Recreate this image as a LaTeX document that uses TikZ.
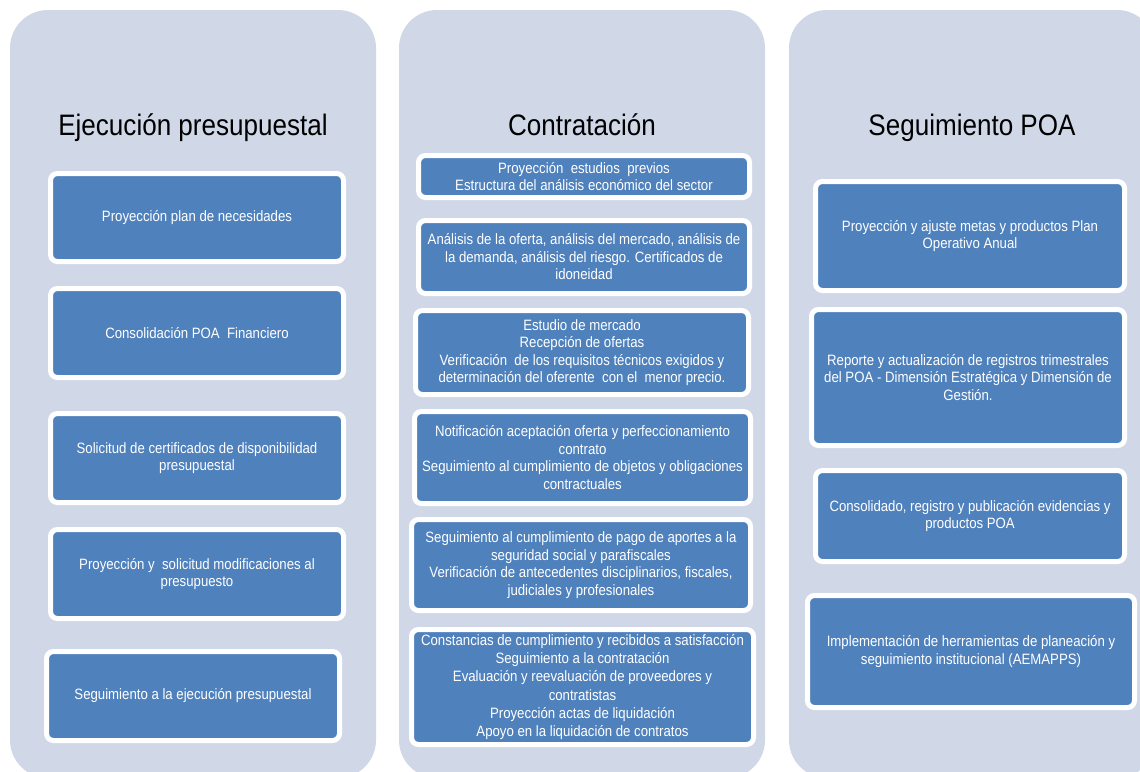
\documentclass[tikz,border=0pt]{standalone}
\usepackage{fontspec}
\setmainfont[FakeStretch=0.88]{Liberation Sans}
\definecolor{panelbg}{HTML}{D0D8E8}
\definecolor{boxblue}{HTML}{4F81BD}
\tikzset{
  panel/.style={fill=panelbg, draw=none, rounded corners=38pt},
  stepbox/.style={rounded corners=7pt, fill=boxblue, draw=white, line width=5pt,
    align=center, text=white, inner sep=0pt, font=\fontsize{15}{17.5}\selectfont},
  coltitle/.style={anchor=base, inner sep=0pt, font=\fontsize{29.6}{34}\selectfont, text=black}
}
\begin{document}
\begin{tikzpicture}[x=1pt,y=-1pt]
\useasboundingbox (0,0) rectangle (1140,771);
\clip (0,0) rectangle (1140,771);
\fill[white] (0,0) rectangle (1140,771);
% panels
\path[panel] (10,10) rectangle (376,778);
\path[panel] (399,10) rectangle (765,778);
\path[panel] (789,10) rectangle (1155,778);
% titles
\node[coltitle] (t1) at (193,135) {Ejecución presupuestal};
\node[coltitle] (t2) at (582,135) {Contratación};
\node[coltitle] (t3) at (972,135) {Seguimiento POA};
% column 1
\node[stepbox, minimum width=293, minimum height=88] (a1) at (197,217.5) {Proyección plan de necesidades};
\node[stepbox, minimum width=293, minimum height=89] (a2) at (197,333) {Consolidación POA\ \ Financiero};
\node[stepbox, minimum width=293, minimum height=89] (a3) at (197,458) {Solicitud de certificados de disponibilidad\\presupuestal};
\node[stepbox, minimum width=293, minimum height=89] (a4) at (197,574) {Proyección y\ \ solicitud modificaciones al\\presupuesto};
\node[stepbox, minimum width=293, minimum height=89] (a5) at (193,696) {Seguimiento a la ejecución presupuestal};
% column 2
\node[stepbox, minimum width=331, minimum height=42] (b1) at (584,176.5) {Proyección\ \ estudios\ \ previos\\Estructura del análisis económico del sector};
\node[stepbox, minimum width=331, minimum height=73] (b2) at (584,257) {Análisis de la oferta, análisis del mercado, análisis de\\la demanda, análisis del riesgo. Certificados de\\idoneidad};
\node[stepbox, minimum width=333, minimum height=84] (b3) at (582,352.5) {Estudio de mercado\\Recepción de ofertas\\Verificación\ \ de los requisitos técnicos exigidos y\\determinación del oferente\ \ con el\ \ menor precio.};
\node[stepbox, minimum width=336, minimum height=92] (b4) at (582.5,457.5) {Notificación aceptación oferta y perfeccionamiento\\contrato\\Seguimiento al cumplimiento de objetos y obligaciones\\contractuales};
\node[stepbox, minimum width=339, minimum height=91] (b5) at (581,565) {Seguimiento al cumplimiento de pago de aportes a la\\seguridad social y parafiscales\\Verificación de antecedentes disciplinarios, fiscales,\\judiciales y profesionales};
\node[stepbox, minimum width=342, minimum height=115, font=\fontsize{15}{18.2}\selectfont] (b6) at (582.5,687) {Constancias de cumplimiento y recibidos a satisfacción\\Seguimiento a la contratación\\Evaluación y reevaluación de proveedores y\\contratistas\\Proyección actas de liquidación\\Apoyo en la liquidación de contratos};
% column 3
\node[stepbox, minimum width=309, minimum height=109] (c1) at (970,236) {Proyección y ajuste metas y productos Plan\\Operativo Anual};
\node[stepbox, minimum width=313, minimum height=136] (c2) at (968,377.5) {Reporte y actualización de registros trimestrales\\del POA - Dimensión Estratégica y Dimensión de\\Gestión.};
\node[stepbox, minimum width=309, minimum height=91] (c3) at (970,516) {Consolidado, registro y publicación evidencias y\\productos POA};
\node[stepbox, minimum width=327, minimum height=112] (c4) at (971,651.5) {Implementación de herramientas de planeación y\\seguimiento institucional (AEMAPPS)};
\end{tikzpicture}
\end{document}
